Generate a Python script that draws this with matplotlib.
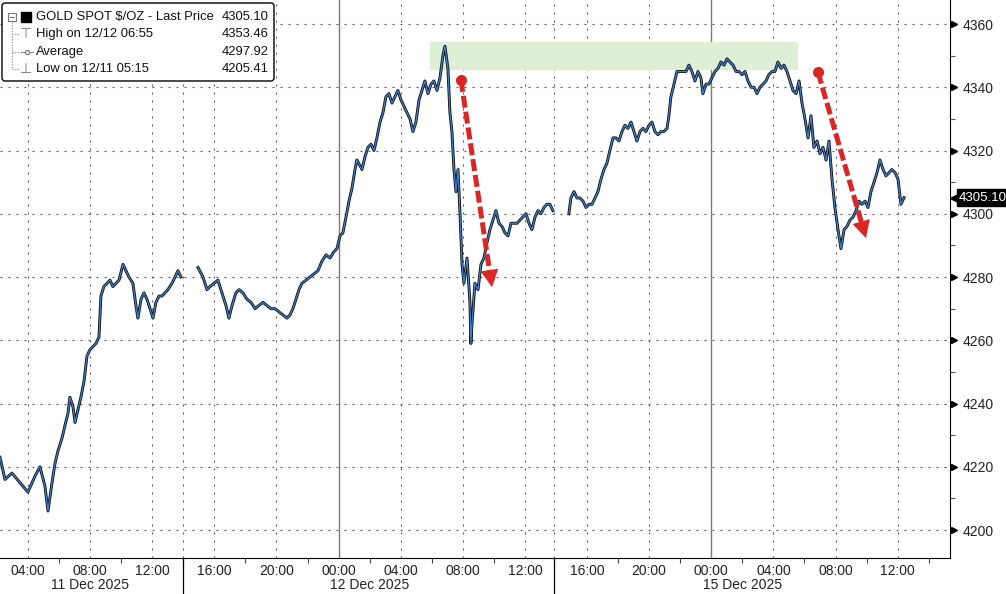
import matplotlib
matplotlib.use("Agg")
import matplotlib.pyplot as plt
import matplotlib.transforms as mtransforms
from matplotlib.patches import Rectangle, FancyBboxPatch
import numpy as np

plt.rcParams['font.family'] = ['Liberation Sans', 'DejaVu Sans']

#############################
# chart hours: 0 = 11 Dec 00:00, weekend collapsed like the terminal does

s1_hours = [2.20, 2.52, 2.97, 3.48, 4.00, 4.45, 4.77, 5.09, 5.29, 5.55, 5.74, 5.93, 6.19, 6.38,
            6.58, 6.70, 6.90, 7.03, 7.22, 7.41, 7.61, 7.80, 7.99, 8.19, 8.38, 8.57, 8.70, 8.89,
            9.09, 9.28, 9.47, 9.67, 9.86, 10.12, 10.31, 10.50, 10.76, 10.95, 11.08, 11.28, 11.47,
            11.66, 11.86, 12.05, 12.24, 12.44, 12.63, 12.82, 13.01, 13.27, 13.47, 13.66, 13.85]
s1_price = [4223, 4216, 4218, 4215, 4212, 4217, 4220, 4214, 4206, 4215, 4221, 4225, 4229, 4233,
            4237, 4242, 4239, 4234, 4238, 4242, 4247, 4255, 4257, 4258, 4259, 4261, 4274, 4277,
            4278, 4279, 4277, 4278, 4279, 4284, 4282, 4280, 4278, 4271, 4267, 4273, 4275,
            4273, 4270, 4267, 4272, 4274, 4274, 4275, 4276, 4278, 4280, 4282, 4280]

s2_hours = [14.95, 15.27, 15.53, 15.72, 15.98, 16.23, 16.49, 16.75, 16.94, 17.14,
            17.39, 17.59, 17.84, 18.10, 18.36, 18.62, 18.87, 19.13, 19.39, 19.65,
            19.90, 20.16, 20.42, 20.68, 20.87, 21.06, 21.26, 21.45, 21.64, 21.90,
            22.16, 22.42, 22.67, 22.93, 23.19, 23.45, 23.70, 23.90, 24.09, 24.28,
            24.48, 24.67, 24.86, 25.06, 25.18, 25.51, 25.70, 25.89, 26.09, 26.28,
            26.47, 26.67, 26.86, 27.05, 27.24, 27.44, 27.63, 27.82, 28.02, 28.21,
            28.40, 28.60, 28.79, 28.98, 29.18, 29.37, 29.56, 29.76, 29.95, 30.14,
            30.34, 30.53, 30.72, 30.85, 31.04, 31.17, 31.30, 31.43, 31.56, 31.69,
            31.82, 31.95, 32.07, 32.27, 32.46, 32.52, 32.59, 32.78, 32.98, 33.17,
            33.36, 33.56, 33.75, 33.94, 34.13, 34.33, 34.52, 34.71, 34.91, 35.10,
            35.29, 35.49, 35.68, 35.87, 36.07, 36.26, 36.45, 36.65, 36.84, 37.03,
            37.23, 37.42, 37.61, 37.80]
s2_price = [4283, 4280, 4276, 4277, 4278, 4279, 4275, 4271, 4267, 4271,
            4275, 4276, 4275, 4273, 4272, 4270, 4271, 4272, 4271, 4270,
            4270, 4269, 4268, 4267, 4268, 4270, 4273, 4276, 4278, 4279,
            4280, 4281, 4282, 4285, 4287, 4286, 4288, 4289, 4293, 4294,
            4299, 4304, 4308, 4314, 4317, 4314, 4318, 4321, 4322, 4320,
            4324, 4329, 4332, 4337, 4338, 4335, 4337, 4339, 4336, 4334,
            4332, 4330, 4326, 4329, 4336, 4339, 4342, 4338, 4341, 4342,
            4339, 4343, 4350, 4353, 4346, 4332, 4326, 4314, 4307, 4314,
            4300, 4284, 4278, 4286, 4272, 4259, 4265, 4278, 4276, 4284,
            4286, 4291, 4295, 4298, 4301, 4297, 4296, 4294, 4293, 4297,
            4297, 4297, 4298, 4299, 4300, 4297, 4295, 4299, 4301, 4300,
            4302, 4303, 4303, 4301]

s3_hours = [38.83, 38.96, 39.16, 39.35, 39.54, 39.74, 39.93, 40.12, 40.32, 40.51,
            40.70, 40.90, 41.09, 41.28, 41.47, 41.67, 41.86, 42.05, 42.25, 42.44,
            42.63, 42.83, 43.02, 43.21, 43.41, 43.60, 43.79, 43.99, 44.18, 44.37,
            44.57, 44.76, 44.95, 45.15, 45.27, 45.40, 45.60, 45.79, 45.98, 46.18,
            46.37, 46.56, 46.75, 46.95, 47.14, 47.33, 47.46, 47.66, 47.85, 48.04,
            48.24, 48.43, 48.62, 48.82, 49.01, 49.20, 49.40, 49.59, 49.78, 49.98,
            50.17, 50.36, 50.56, 50.75, 50.94, 51.13, 51.33, 51.52, 51.71, 51.91,
            52.10, 52.29, 52.49, 52.68, 52.87, 53.07, 53.26, 53.46, 53.65, 53.84,
            54.03, 54.23, 54.42, 54.61, 54.81, 55.00, 55.19, 55.39, 55.58, 55.77,
            55.96, 56.16, 56.35, 56.55, 56.74, 56.93, 57.13, 57.32, 57.51, 57.70,
            57.90, 58.09, 58.28, 58.48, 58.67, 58.86, 59.06, 59.25, 59.44, 59.63,
            59.83, 60.02, 60.21, 60.41]
s3_price = [4300, 4305, 4307, 4305, 4305, 4304, 4302, 4303, 4303, 4305,
            4307, 4311, 4314, 4316, 4320, 4324, 4324, 4323, 4326, 4328,
            4327, 4329, 4326, 4323, 4326, 4327, 4326, 4328, 4329, 4326,
            4325, 4326, 4326, 4327, 4331, 4337, 4341, 4345, 4345, 4345,
            4345, 4347, 4345, 4342, 4345, 4343, 4338, 4341, 4341, 4343,
            4345, 4346, 4348, 4347, 4349, 4348, 4347, 4345, 4345, 4344,
            4345, 4342, 4340, 4340, 4338, 4340, 4341, 4342, 4344, 4345,
            4345, 4348, 4346, 4347, 4345, 4342, 4339, 4338, 4342, 4335,
            4330, 4324, 4331, 4321, 4323, 4319, 4321, 4317, 4323, 4311,
            4302, 4295, 4289, 4295, 4296, 4298, 4299, 4301, 4304, 4303,
            4304, 4302, 4307, 4310, 4313, 4317, 4314, 4312, 4313, 4314,
            4313, 4311, 4303, 4305.10]

hour_ticks = [4, 8, 12, 16, 20, 24, 28, 32, 36, 40, 44, 48, 52, 56, 60]
hour_labels = ['04:00', '08:00', '12:00', '16:00', '20:00', '00:00', '04:00', '08:00',
               '12:00', '16:00', '20:00', '00:00', '04:00', '08:00', '12:00']
minor_hours = [6, 10, 14, 18, 22, 26, 30, 34, 37.85, 42, 46, 50, 54, 58, 62]
day_starts = [24, 48]
session_breaks = [14, 37.85]
date_pos = [8, 26, 50]
date_labels = ['11 Dec 2025', '12 Dec 2025', '15 Dec 2025']

price_ticks = [4200, 4220, 4240, 4260, 4280, 4300, 4320, 4340, 4360]
price_minor = [4210, 4230, 4250, 4270, 4290, 4310, 4330, 4350]
last_price = 4305.10

legend_names = ['GOLD SPOT $/OZ - Last Price', 'High on 12/12 06:55', 'Average', 'Low on 12/11 05:15']
legend_values = ['4305.10', '4353.46', '4297.92', '4205.41']

band_hours = [29.9, 53.6]
band_prices = [4345.5, 4354.3]
arrow_starts = [(31.88, 4342.3), (54.87, 4344.8)]
arrow_tips = [(33.88, 4276.8), (57.96, 4292.3)]

RED = '#dc2626'
GRID = '#5a5a5a'

#############################

W, H = 1006, 594
fig = plt.figure(figsize=(W / 100, H / 100), dpi=100)
ax = fig.add_axes([0, 36 / H, 950 / W, 558 / H])
ax.set_xlim(2.2, 63.37)
ax.set_ylim(4191.15, 4367.6)

## highlight band
ax.add_patch(Rectangle((band_hours[0], band_prices[0]), band_hours[1] - band_hours[0],
                       band_prices[1] - band_prices[0], fc='#ddf0d6', ec='none', zorder=1))

## grid
for p in price_ticks:
    ax.axhline(p, color=GRID, lw=0.8, ls=(0, (1.8, 5.4)), zorder=0)
for h in hour_ticks + session_breaks:
    if h in day_starts:
        ax.axvline(h, color='#7a7a7a', lw=1.0, zorder=0)
    else:
        ax.axvline(h, color=GRID, lw=0.8, ls=(0, (1.8, 5.4)), zorder=0)

## price line, one piece per session (dark outline + blue core, like the candles)
for hrs, px in [(s1_hours, s1_price), (s2_hours, s2_price), (s3_hours, s3_price)]:
    ax.plot(hrs, px, color='#101010', lw=2.1, zorder=3)
    ax.plot(hrs, px, color='#3f7fcc', lw=0.9, zorder=4)

## red arrows
for (x0, y0), (x1, y1) in zip(arrow_starts, arrow_tips):
    a = ax.transData.transform((x0, y0))
    b = ax.transData.transform((x1, y1))
    u = (b - a) / np.hypot(*(b - a))
    base = ax.transData.inverted().transform(b - u * 17)
    line_end = ax.transData.inverted().transform(b - u * 15)
    ax.plot([x0, line_end[0]], [y0, line_end[1]], color=RED, lw=3.6, ls=(0, (2.4, 0.8)),
            dash_capstyle='butt', zorder=6)
    ax.plot([x0], [y0], marker='o', ms=7, color=RED, zorder=7)
    ax.annotate('', xy=(x1, y1), xytext=(base[0], base[1]),
                arrowprops=dict(arrowstyle='-|>,head_length=0.62,head_width=0.32',
                                mutation_scale=20, color=RED, lw=0, shrinkA=0, shrinkB=0),
                zorder=7)

## spines
for s in ['left', 'top']:
    ax.spines[s].set_visible(False)
ax.spines['right'].set_color('black')
ax.spines['bottom'].set_color('black')

## y axis on the right
ax.yaxis.tick_right()
ax.set_yticks(price_ticks)
ax.set_yticks(price_minor, minor=True)
ax.tick_params(axis='y', which='major', length=0, pad=9, labelsize=10, labelcolor='#222222')
ax.tick_params(axis='y', which='minor', length=3.5, width=0.8, direction='out', color='#555555')
ytrans = mtransforms.offset_copy(mtransforms.blended_transform_factory(ax.transAxes, ax.transData),
                                 fig=fig, x=3.5, units='dots')
ax.plot([1] * len(price_ticks), price_ticks, ls='none', marker='>', ms=5, color='black',
        transform=ytrans, clip_on=False)

## x axis
ax.set_xticks(hour_ticks, hour_labels)
ax.set_xticks(minor_hours, minor=True)
ax.tick_params(axis='x', which='major', length=0, pad=4, labelsize=10, labelcolor='#222222')
ax.tick_params(axis='x', which='minor', length=3.5, width=0.8, direction='out', color='#444444')
xtrans = mtransforms.blended_transform_factory(ax.transData, ax.transAxes)
for pos, lab in zip(date_pos, date_labels):
    ax.text(pos, -0.049, lab, transform=xtrans, ha='center', va='center', fontsize=10,
            color='#222222')
for b in session_breaks:
    ax.plot([b, b], [0, -0.07], transform=xtrans, clip_on=False, color='black', lw=0.9)

## last price tag: small pointer + black box
tag_trans = mtransforms.blended_transform_factory(ax.transAxes, ax.transData)
ax.annotate(f'{last_price:.2f}', xy=(1, last_price), xycoords=tag_trans,
            xytext=(9, 0), textcoords='offset pixels', ha='left', va='center',
            color='white', fontsize=9.5, annotation_clip=False,
            bbox=dict(boxstyle='square,pad=0.18', fc='black', ec='black'))
ax.plot([1], [last_price], ls='none', marker='<', ms=9, color='black',
        transform=mtransforms.offset_copy(tag_trans, fig=fig, x=6, units='dots'),
        clip_on=False)

## legend box, drawn in pixel space on an overlay
ov = fig.add_axes([0, 0, 1, 1])
ov.set_xlim(0, W)
ov.set_ylim(H, 0)
ov.axis('off')
ov.add_patch(FancyBboxPatch((2, 3), 272, 78, boxstyle='round,pad=0,rounding_size=3',
                            fc='white', ec='black', lw=1.0))
rows_y = [17, 34, 52, 69]
for y, name, val in zip(rows_y, legend_names, legend_values):
    ov.text(36, y, name, ha='left', va='center', fontsize=9.4, color='#111111')
    ov.text(269, y, val, ha='right', va='center', fontsize=9.4, color='#111111')
# tree icons
ov.plot([12, 12], [22, rows_y[3]], color='#888888', lw=0.8, ls=(0, (1, 1.5)))
for y in rows_y[1:]:
    ov.plot([12, 20], [y, y], color='#888888', lw=0.8, ls=(0, (1, 1.5)))
ov.add_patch(Rectangle((8, 12.5), 8, 8, fc='white', ec='#777777', lw=0.8))
ov.plot([10, 14], [16.5, 16.5], color='#777777', lw=0.8)
ov.add_patch(Rectangle((21, 12), 10, 10, fc='black', ec='black'))
ov.text(26, rows_y[1], '\u22a4', ha='center', va='center', fontsize=10, color='#777777')
ov.plot([21, 33], [rows_y[2], rows_y[2]], color='#888888', lw=0.8)
ov.plot([27], [rows_y[2]], marker='o', ms=3, mfc='white', mec='#777777', mew=0.8)
ov.text(26, rows_y[3], '\u22a5', ha='center', va='center', fontsize=10, color='#777777')

fig.savefig('out.png', dpi=100)
